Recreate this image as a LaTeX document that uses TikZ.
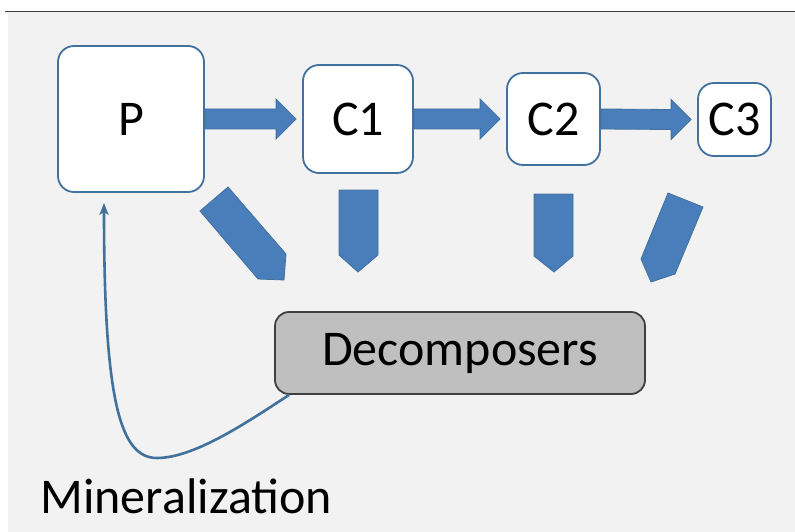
\documentclass[tikz,border=0pt]{standalone}
\usepackage{fontspec}
\setmainfont{Carlito}
\usetikzlibrary{arrows.meta}

\definecolor{boxline}{HTML}{41719C}
\definecolor{arrfill}{HTML}{4A7EBB}
\definecolor{bggray}{HTML}{F2F2F2}
\definecolor{decfill}{HTML}{BFBFBF}
\definecolor{decline}{HTML}{404040}

\tikzset{
  species/.style={draw=boxline, line width=1.8pt, fill=white, rounded corners=16pt,
                  inner sep=0pt, font=\fontsize{50}{60}\selectfont},
  decbox/.style={draw=decline, line width=1.8pt, fill=decfill, rounded corners=14pt,
                 inner sep=0pt, minimum width=370pt, minimum height=82pt,
                 font=\fontsize{50}{60}\selectfont},
  blockarr/.style={fill=arrfill, draw=boxline, line width=0.8pt},
  recycle/.style={draw=boxline, line width=2.6pt,
                  -{Stealth[length=12pt,width=9pt,inset=3pt]}, shorten >=10pt},
}

% fat arrow from one box to the next
\newcommand{\fatarrow}[2]{%
  \draw[blockarr] ([yshift=10pt]#1.east) -- ([xshift=-26pt,yshift=10pt]#2.west)
    -- ([xshift=-26pt,yshift=20pt]#2.west) -- ([xshift=-6pt]#2.west)
    -- ([xshift=-26pt,yshift=-20pt]#2.west) -- ([xshift=-26pt,yshift=-10pt]#2.west)
    -- ([yshift=-10pt]#1.east) -- cycle;}

\begin{document}
\begin{tikzpicture}[x=1pt,y=-1pt]
\useasboundingbox (0,0) rectangle (795,532);
\fill[bggray] (8,12) rectangle (795,532);
\draw[decline, line width=1.5pt] (5,11.5) -- (795,11.5);

% food chain
\node[species, minimum width=146pt, minimum height=146pt] (P)  at (131,119)   {P};
\node[species, minimum width=110pt, minimum height=108pt] (C1) at (358,119)   {C1};
\node[species, minimum width=93pt,  minimum height=92pt]  (C2) at (553.5,119) {C2};
\node[species, minimum width=73pt,  minimum height=73pt]  (C3) at (734.5,119.5) {C3};

\fatarrow{P}{C1}
\fatarrow{C1}{C2}
\fatarrow{C2}{C3}

% dead matter going down
\draw[blockarr] (228,187) -- (200,211) -- (258,279) -- (284,280) -- (286,254) -- cycle;
\draw[blockarr] (339,190) -- (378,190) -- (378,255) -- (358,272) -- (339,255) -- cycle;
\draw[blockarr] (534,194) -- (573,194) -- (573,256) -- (554,272) -- (534,256) -- cycle;
\draw[blockarr] (668,193) -- (703,207) -- (675,274) -- (651,282) -- (641,259) -- cycle;

\node[decbox] (dec) at (460,353) {Decomposers};

% back to P
\coordinate (low) at (157,458);
\draw[recycle] ([xshift=15pt]dec.south west) .. controls +(-40,26) and +(38,0) .. (low)
   .. controls +(-37,0) and +(0,208) .. ([xshift=-27pt]P.south);

\node[anchor=base west, font=\fontsize{50}{60}\selectfont] (minr) at (37,513) {Mineralization};
\end{tikzpicture}
\end{document}
